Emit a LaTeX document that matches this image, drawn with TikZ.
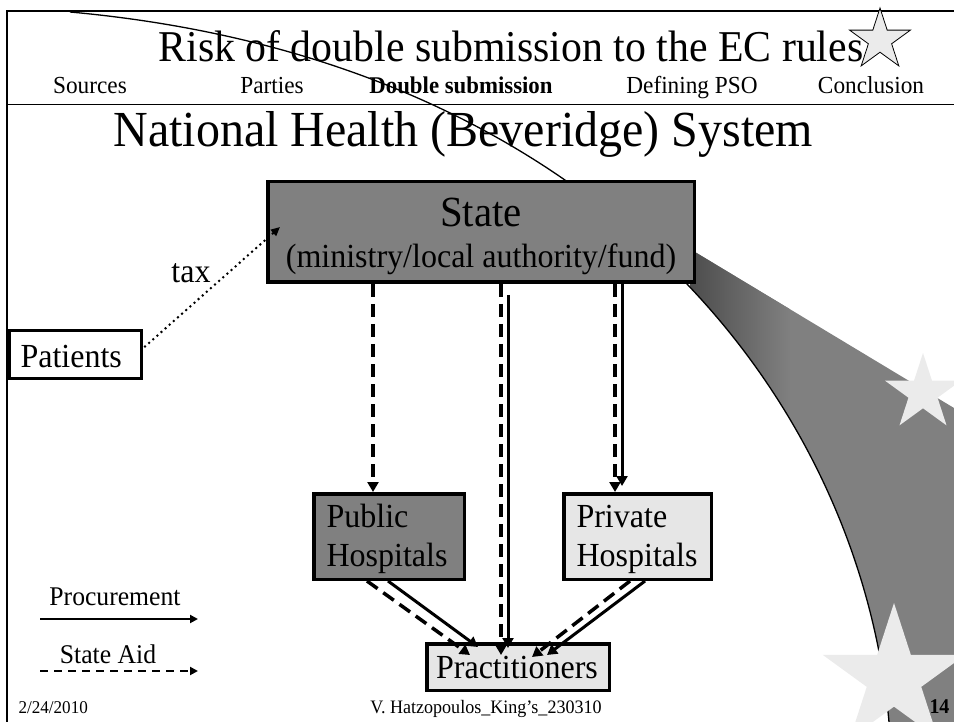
\documentclass[tikz,border=0pt]{standalone}
\usepackage{fontspec}
\setmainfont{Liberation Serif}[FakeStretch=0.95]
\usetikzlibrary{shapes.geometric,arrows.meta}
\definecolor{darkbox}{HTML}{808080}
\definecolor{lightbox}{HTML}{E6E6E6}
\definecolor{starfill}{HTML}{EBEBEB}
\newcommand{\fs}[1]{\fontsize{#1}{#1}\selectfont}

\begin{document}
\begin{tikzpicture}[x=1pt, y=-1pt, >={Triangle[length=10pt,width=11pt]},
  box/.style={draw, line width=3.5pt, inner sep=0pt},
  proc/.style={->, line width=3pt},
  aid/.style={->, line width=3.5pt, dash pattern=on 13pt off 7pt},
  legtip/.style={>={Triangle[length=8pt,width=8pt]}}]
\useasboundingbox (0,0) rectangle (954,722);
% slide frame
\draw[line width=2.8pt] (7,722) -- (7,11) -- (954,11);
\draw[line width=1pt] (7,105) -- (954,105);
% swoosh
\begin{scope}
\clip (70,12) .. controls (600,60) and (860,400) .. (889,722) -- (960,722) -- (960,0) -- cycle;
\clip (690,249) -- (954,408) -- (954,722) -- (690,722) -- cycle;
\fill[darkbox] (690,0) rectangle (954,722);
\shade[left color=black!70, right color=darkbox] (690,0) rectangle (790,722);
\end{scope}
\draw[line width=1.3pt] (70,12) .. controls (600,60) and (860,400) .. (889,722);
\node[star, star points=5, star point ratio=2.618, minimum size=80pt, inner sep=0pt, fill=starfill] (star1) at (923,393) {};
\node[star, star points=5, star point ratio=2.618, minimum size=150pt, inner sep=0pt, fill=starfill] (star2) at (894,678) {};
% header
\node[anchor=base west, font=\fs{44}] (title) at (155,62) {Risk of double submission to the EC rules};
\node[star, star points=5, star point ratio=2.618, minimum size=64pt, inner sep=0pt, draw, line width=0.8pt, fill=starfill] (star0) at (880,40) {};
\node[anchor=base, font=\fs{24.5}] (msrc) at (90,94) {Sources};
\node[anchor=base, font=\fs{24.5}] (mpar) at (272,94) {Parties};
\node[anchor=base, font=\fs{24}\bfseries] (mdbl) at (461,94) {Double submission};
\node[anchor=base, font=\fs{24.5}] (mpso) at (692,94) {Defining PSO};
\node[anchor=base, font=\fs{24.5}] (mcon) at (871,94) {Conclusion};
\node[anchor=base west, font=\fs{50.5}] (head) at (110,147) {National Health (Beveridge) System};
% boxes
\node[box, fill=darkbox, minimum width=426.5pt, minimum height=100.5pt] (state) at (481,232) {};
\node[anchor=base, font=\fs{43}] (statet) at (481,227) {State};
\node[anchor=base, font=\fs{33.7}] (states) at (481,268) {(ministry/local authority/fund)};
\node[box, fill=white, minimum width=132.5pt, minimum height=47.5pt] (pat) at (75,354.5) {};
\node[anchor=base west, font=\fs{33.7}] (patt) at (17,367) {Patients};
\node[box, fill=darkbox, minimum width=150.5pt, minimum height=85.5pt] (pub) at (389,536.5) {};
\node[anchor=base west, font=\fs{33.7}] (pubt) at (323,527) {Public};
\node[anchor=base west, font=\fs{33.7}] (pubh) at (323,566) {Hospitals};
\node[box, fill=lightbox, minimum width=147.5pt, minimum height=85.5pt] (pri) at (637.5,536.5) {};
\node[anchor=base west, font=\fs{33.7}] (prit) at (573,527) {Private};
\node[anchor=base west, font=\fs{33.7}] (prih) at (573,566) {Hospitals};
\node[box, fill=lightbox, minimum width=182.5pt, minimum height=46.5pt] (prac) at (518,667) {};
\node[anchor=base, font=\fs{33.7}] (pract) at (517,678) {Practitioners};
% flows
\draw[->, line width=2.8pt, dash pattern=on 0pt off 5.5pt, line cap=round, >={Triangle[length=9pt,width=8pt]}] ([xshift=2pt,yshift=8pt]pat.east) -- ([xshift=14pt,yshift=5pt]state.west);
\node[anchor=base, font=\fs{33.7}] (tax) at (191,283) {tax};
\draw[aid] ([xshift=-108pt]state.south) -- ([xshift=-16pt]pub.north);
\draw[aid] ([xshift=20pt]state.south) -- ([xshift=-17pt,yshift=-13pt]prac.north);
\draw[proc] ([xshift=27pt,yshift=-11pt]state.south) -- ([xshift=-10pt,yshift=-6pt]prac.north);
\draw[aid] ([xshift=134pt]state.south) -- ([xshift=-22.5pt]pri.north);
\draw[proc] ([xshift=141pt]state.south) -- ([xshift=-15.5pt,yshift=6pt]pri.north);
\draw[aid] ([xshift=-22pt]pub.south) -- ([xshift=-48pt,yshift=-13pt]prac.north);
\draw[proc] ([xshift=-1pt]pub.south) -- ([xshift=-40pt,yshift=-5pt]prac.north);
\draw[aid] ([xshift=-7.5pt]pri.south) -- ([xshift=14pt,yshift=-15pt]prac.north);
\draw[proc] ([xshift=7.5pt]pri.south) -- ([xshift=29pt,yshift=-13pt]prac.north);
% legend
\coordinate (procA) at (40,619);
\coordinate (procB) at (198,619);
\coordinate (aidA) at (40,671);
\coordinate (aidB) at (198,671);
\draw[->, legtip, line width=2.8pt] (procA) -- (procB);
\draw[->, legtip, line width=2.8pt, dash pattern=on 8pt off 6pt] (aidA) -- (aidB);
\node[anchor=base, font=\fs{27}] (procl) at (115,605) {Procurement};
\node[anchor=base, font=\fs{27}] (aidl) at (108,663) {State Aid};
% footer
\node[anchor=base west, font=\fs{18}] (date) at (15,713) {2/24/2010};
\node[anchor=base, font=\fs{19}] (auth) at (486,713) {V. Hatzopoulos\_King's\_230310};
\node[anchor=base east, font=\fs{21}\bfseries] (page) at (953,713) {14};
\end{tikzpicture}
\end{document}
